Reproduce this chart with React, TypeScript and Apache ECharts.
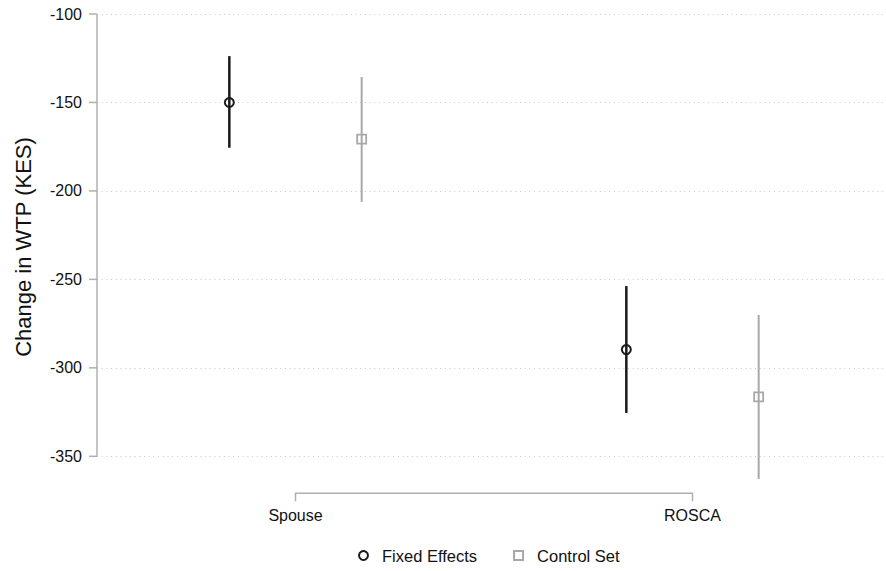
import React, { useEffect, useRef } from "react";
import * as echarts from "echarts";

const categories = ["Spouse", "ROSCA"];
const categoryPos = [1, 2];
const feEst = [-150, -289.7];
const feLo = [-175.6, -325.5];
const feHi = [-123.8, -253.8];
const csEst = [-170.7, -316.4];
const csLo = [-206.2, -362.8];
const csHi = [-135.6, -270.1];
const yTicks = [-350, -300, -250, -200, -150, -100];
const seriesNames = ["Fixed Effects", "Control Set"];
const yTitle = "Change in WTP (KES)";

const OFFSET = 1 / 6;
const FONT = "Liberation Sans, Arial, sans-serif";
const BLACK = "#1a1a1a";
const GRAY = "#a8a8a8";
const AXIS_GRAY = "#b0b0b0";

export default function App() {
  const ref = useRef<HTMLDivElement>(null);
  useEffect(() => {
    if (!ref.current) return;
    const chart = echarts.init(ref.current, undefined, { renderer: "svg" });
    const yMin = yTicks[0];
    const yMax = yTicks[yTicks.length - 1];
    const xMin = 0.5;
    const feX = categoryPos.map((p) => p - OFFSET);
    const csX = categoryPos.map((p) => p + OFFSET);

    const errRender = (color: string, width: number) => (params: any, api: any) => {
      const x = api.value(0);
      const lo = api.coord([x, api.value(1)]);
      const hi = api.coord([x, api.value(2)]);
      return {
        type: "line",
        shape: { x1: lo[0], y1: lo[1], x2: hi[0], y2: hi[1] },
        style: { stroke: color, lineWidth: width },
      };
    };

    chart.setOption({
      animation: false,
      textStyle: { fontFamily: FONT },
      grid: {
        left: 97,
        width: 794,
        top: 14,
        height: 442.3,
        containLabel: false,
        outerBoundsMode: "none",
      },
      graphic: [
        {
          type: "text",
          x: 23,
          y: 247,
          rotation: Math.PI / 2,
          style: {
            text: yTitle,
            fontSize: 22,
            fontFamily: FONT,
            fill: "#111",
            align: "center",
            verticalAlign: "middle",
          },
        },
      ],
      legend: {
        data: seriesNames,
        left: 353,
        top: 542,
        itemWidth: 9,
        itemHeight: 9,
        itemGap: 36,
        textStyle: { fontSize: 16.5, color: "#111", fontFamily: FONT, padding: [0, 0, 0, 9] },
      },
      xAxis: {
        type: "value",
        min: xMin,
        max: 2.5,
        interval: 0.5,
        offset: 37,
        axisLine: { show: false },
        axisTick: { show: false },
        splitLine: { show: false },
        axisLabel: {
          fontSize: 16,
          color: "#111",
          margin: 14,
          showMinLabel: true,
          showMaxLabel: true,
          formatter: (v: number) => {
            const i = categoryPos.indexOf(v);
            return i >= 0 ? categories[i] : "";
          },
        },
      },
      yAxis: {
        type: "value",
        min: yMin,
        max: yMax,
        interval: 50,
        axisLine: { show: false },
        axisTick: { show: false },
        axisLabel: { fontSize: 16, color: "#111", margin: 15 },
        splitLine: { show: true, lineStyle: { color: "#c8c8c8", width: 1, type: [1, 3.7] } },
      },
      series: [
        {
          type: "custom",
          name: "yaxis",
          silent: true,
          clip: false,
          data: [[xMin, yMin, yMax]],
          renderItem: (params: any, api: any) => {
            const x = api.value(0);
            const top = api.coord([x, api.value(2)]);
            const bot = api.coord([x, api.value(1)]);
            const children: any[] = [
              {
                type: "line",
                shape: { x1: top[0], y1: top[1], x2: bot[0], y2: bot[1] },
                style: { stroke: AXIS_GRAY, lineWidth: 1.5 },
              },
            ];
            yTicks.forEach((t) => {
              const p = api.coord([x, t]);
              children.push({
                type: "line",
                shape: { x1: p[0] - 8, y1: p[1], x2: p[0], y2: p[1] },
                style: { stroke: AXIS_GRAY, lineWidth: 1.5 },
              });
            });
            return { type: "group", children };
          },
        },
        {
          type: "custom",
          name: "bracket",
          silent: true,
          clip: false,
          data: [[categoryPos[0], categoryPos[categoryPos.length - 1]]],
          renderItem: (params: any, api: any) => {
            const a = api.coord([api.value(0), yMin]);
            const b = api.coord([api.value(1), yMin]);
            const y = a[1] + 37;
            return {
              type: "polyline",
              shape: { points: [[a[0], y + 8], [a[0], y], [b[0], y], [b[0], y + 8]] },
              style: { stroke: AXIS_GRAY, lineWidth: 1.5, fill: "none" },
            };
          },
        },
        {
          type: "custom",
          name: "FE CI",
          clip: false,
          data: feX.map((x, i) => [x, feLo[i], feHi[i]]),
          renderItem: errRender(BLACK, 2.5),
        },
        {
          type: "custom",
          name: "CS CI",
          clip: false,
          data: csX.map((x, i) => [x, csLo[i], csHi[i]]),
          renderItem: errRender(GRAY, 2),
        },
        {
          type: "scatter",
          name: seriesNames[0],
          symbol: "circle",
          symbolSize: 9,
          clip: false,
          data: feX.map((x, i) => [x, feEst[i]]),
          itemStyle: { color: "rgba(0,0,0,0)", borderColor: BLACK, borderWidth: 2, opacity: 1 },
        },
        {
          type: "scatter",
          name: seriesNames[1],
          symbol: "rect",
          symbolSize: 9,
          clip: false,
          data: csX.map((x, i) => [x, csEst[i]]),
          itemStyle: { color: "rgba(0,0,0,0)", borderColor: GRAY, borderWidth: 1.8, opacity: 1 },
        },
      ],
    });
    return () => chart.dispose();
  }, []);
  return <div ref={ref} style={{ width: 886, height: 571, position: "absolute", left: 0, top: 0 }} />;
}
